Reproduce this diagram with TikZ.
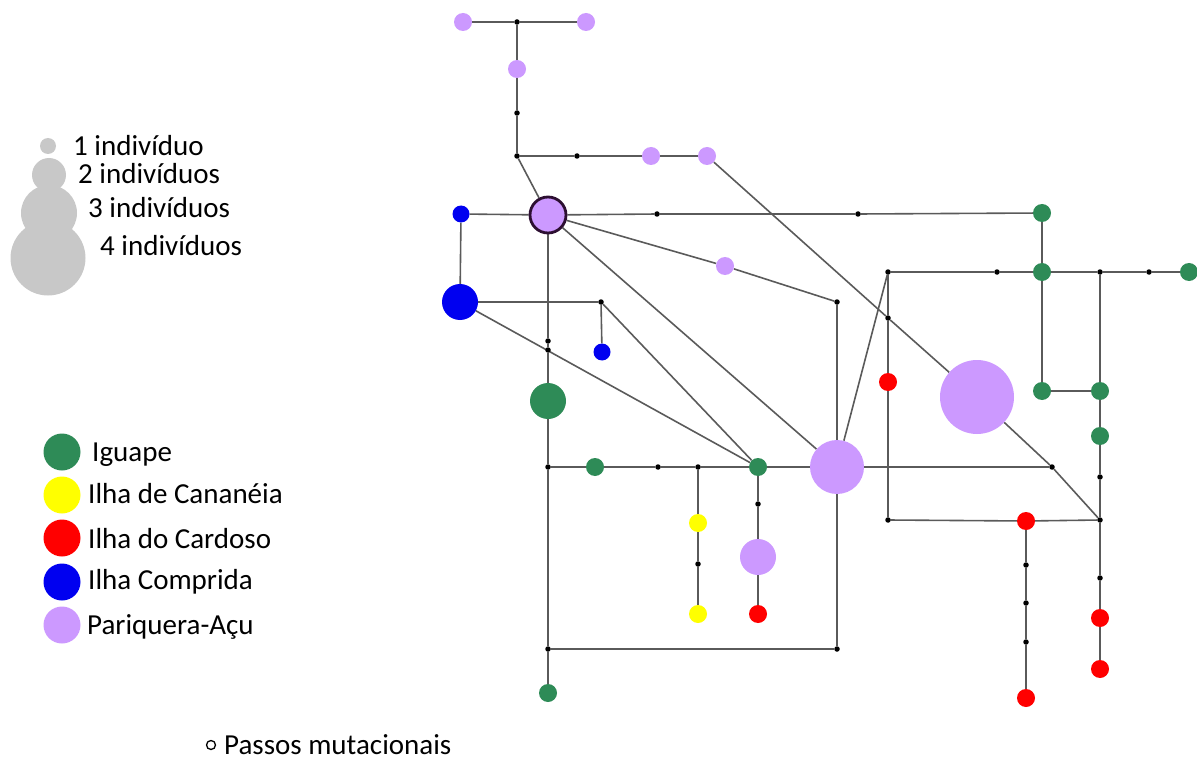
\documentclass[tikz,border=0pt]{standalone}
\usepackage{fontspec}
\setmainfont{Carlito}
\usetikzlibrary{backgrounds}
\definecolor{pq}{RGB}{204,153,255}
\definecolor{gr}{RGB}{46,139,87}
\definecolor{rd}{RGB}{255,0,0}
\definecolor{bl}{RGB}{0,0,240}
\definecolor{yl}{RGB}{255,255,0}
\definecolor{lg}{RGB}{200,200,200}
\definecolor{ln}{RGB}{90,90,90}
\definecolor{hubline}{RGB}{45,15,50}
\tikzset{
  hap/.style={circle, inner sep=0pt, draw=none},
  one/.style={hap, minimum size=18pt},
  two/.style={hap, minimum size=36pt},
  three/.style={hap, minimum size=54pt},
  four/.style={hap, minimum size=74pt},
  mv/.style={circle, fill=black, inner sep=0pt, minimum size=5.5pt},
  edge/.style={draw=ln, line width=1.6pt},
  lbl/.style={anchor=base west, font=\fontsize{29}{32}\selectfont, inner sep=0pt},
  lgsw/.style={circle, inner sep=0pt, minimum size=37pt},
  szc/.style={circle, fill=lg, inner sep=0pt}
}
\begin{document}
\begin{tikzpicture}[x=1pt,y=-1pt]
\useasboundingbox (0,0) rectangle (1197,762);
% ---------- haplotypes ----------
% Pariquera-Acu
\node[one, fill=pq] (p1) at (463,22) {};
\node[one, fill=pq] (p2) at (586,22) {};
\node[one, fill=pq] (p3) at (517,69) {};
\node[one, fill=pq] (p4) at (651,156) {};
\node[one, fill=pq] (p5) at (707,156) {};
\node[hap, fill=pq, draw=hubline, line width=2.8pt, minimum size=36pt] (hub) at (548,215) {};
\node[one, fill=pq] (p6) at (725,266) {};
\node[two, fill=pq] (p7) at (758,557) {};
\node[three, fill=pq] (bp2) at (837,467) {};
\node[four, fill=pq] (bp) at (977,397) {};
% Ilha Comprida
\node[hap, fill=bl, minimum size=17pt] (b1) at (461,214) {};
\node[two, fill=bl] (bb) at (460,302) {};
\node[hap, fill=bl, minimum size=17pt] (b2) at (602,352) {};
% Iguape
\node[one, fill=gr] (g1) at (1042,213) {};
\node[one, fill=gr] (g2) at (1042,272) {};
\node[one, fill=gr] (g3) at (1189,272) {};
\node[one, fill=gr] (g4) at (1042,391) {};
\node[one, fill=gr] (g5) at (1100,391) {};
\node[one, fill=gr] (g6) at (1100,436) {};
\node[two, fill=gr] (gb) at (548,401) {};
\node[one, fill=gr] (g8) at (595,467) {};
\node[one, fill=gr] (g7) at (758,467) {};
\node[one, fill=gr] (g9) at (548,693) {};
% Ilha do Cardoso
\node[one, fill=rd] (r1) at (888,382) {};
\node[one, fill=rd] (r2) at (758,614) {};
\node[one, fill=rd] (r3) at (1026,521) {};
\node[one, fill=rd] (r4) at (1100,618) {};
\node[one, fill=rd] (r5) at (1100,669) {};
\node[one, fill=rd] (r6) at (1026,698) {};
% Ilha de Cananeia
\node[one, fill=yl] (y1) at (698,523) {};
\node[one, fill=yl] (y2) at (698,614) {};
% ---------- mutational steps ----------
\node[mv] (d1) at (517,22) {};
\node[mv] (d2) at (517,113) {};
\node[mv] (d3) at (517,156) {};
\node[mv] (d4) at (577,156) {};
\node[mv] (d5) at (657,214) {};
\node[mv] (d6) at (858,214) {};
\node[mv] (d7) at (601,302) {};
\node[mv] (d8) at (837,302) {};
\node[mv] (d9) at (888,272) {};
\node[mv] (d10) at (997,272) {};
\node[mv] (d11) at (1100,272) {};
\node[mv] (d12) at (1149,272) {};
\node[mv] (d13) at (888,318) {};
\node[mv] (d14) at (548,341) {};
\node[mv] (d15) at (548,350) {};
\node[mv] (d16) at (548,467) {};
\node[mv] (d17) at (658,467) {};
\node[mv] (d18) at (698,467) {};
\node[mv] (d19) at (758,504) {};
\node[mv] (d20) at (698,564) {};
\node[mv] (d21) at (548,649) {};
\node[mv] (d22) at (837,649) {};
\node[mv] (d23) at (1052,467) {};
\node[mv] (d24) at (888,520) {};
\node[mv] (d25) at (1100,520) {};
\node[mv] (d26) at (1100,477) {};
\node[mv] (d27) at (1100,578) {};
\node[mv] (d28) at (1026,565) {};
\node[mv] (d29) at (1026,603) {};
\node[mv] (d30) at (1026,642) {};
% ---------- connectors ----------
\begin{scope}[on background layer]
\draw[edge] (p1) -- (d1) -- (p2);
\draw[edge] (d1) -- (p3) -- (d2) -- (d3) -- (d4) -- (p4) -- (p5);
\draw[edge] (d3) -- (hub);
\draw[edge] (p5) -- (d13) -- (bp);
\draw[edge] (b1) -- (hub) -- (d5) -- (d6) -- (g1);
\draw[edge] (b1) -- (bb);
\draw[edge] (bb) -- (d7) -- (b2);
\draw[edge] (d7) -- (g7);
\draw[edge] (bb) -- (g7);
\draw[edge] (hub) -- (d14) -- (d15) -- (gb) -- (d16) -- (d21) -- (g9);
\draw[edge] (hub) -- (p6) -- (d8) -- (bp2);
\draw[edge] (hub) -- (bp2);
\draw[edge] (d16) -- (g8) -- (d17) -- (d18) -- (g7) -- (bp2) -- (d23);
\draw[edge] (d18) -- (y1) -- (d20) -- (y2);
\draw[edge] (g7) -- (d19) -- (p7) -- (r2);
\draw[edge] (d21) -- (d22) -- (bp2);
\draw[edge] (g1) -- (g2) -- (g4) -- (g5);
\draw[edge] (d9) -- (d10) -- (g2) -- (d11) -- (d12) -- (g3);
\draw[edge] (d9) -- (bp2);
\draw[edge] (d9) -- (d13) -- (r1) -- (d24) -- (r3) -- (d25);
\draw[edge] (bp) -- (d23) -- (d25);
\draw[edge] (d11) -- (g5) -- (g6) -- (d26) -- (d25) -- (d27) -- (r4) -- (r5);
\draw[edge] (r3) -- (d28) -- (d29) -- (d30) -- (r6);
\end{scope}
% ---------- size legend ----------
\node[szc, minimum size=75pt] (s4) at (48,258) {};
\node[szc, minimum size=56pt] (s3) at (49,213) {};
\node[szc, minimum size=34pt] (s2) at (49,175) {};
\node[szc, minimum size=16pt] (s1) at (48,146) {};
\node[lbl] (t1) at (73,156) {1 indivíduo};
\node[lbl] (t2) at (78,184) {2 indivíduos};
\node[lbl] (t3) at (88,218) {3 indivíduos};
\node[lbl] (t4) at (100,255) {4 indivíduos};
% ---------- colour legend ----------
\node[lgsw, fill=gr] (c1) at (62,452) {};
\node[lgsw, fill=yl] (c2) at (62,495) {};
\node[lgsw, fill=rd] (c3) at (62,538) {};
\node[lgsw, fill=bl] (c4) at (62,582) {};
\node[lgsw, fill=pq] (c5) at (62,625) {};
\node[lbl] (l1) at (92,461) {Iguape};
\node[lbl] (l2) at (88,503) {Ilha de Cananéia};
\node[lbl] (l3) at (88,548) {Ilha do Cardoso};
\node[lbl] (l4) at (88,589) {Ilha Comprida};
\node[lbl] (l5) at (87,634) {Pariquera-Açu};
% ---------- mutational step legend ----------
\node[circle, draw=black, line width=1.3pt, inner sep=0pt, minimum size=9pt] (mk) at (211,745) {};
\node[lbl] (mt) at (224,754) {Passos mutacionais};
\end{tikzpicture}
\end{document}
